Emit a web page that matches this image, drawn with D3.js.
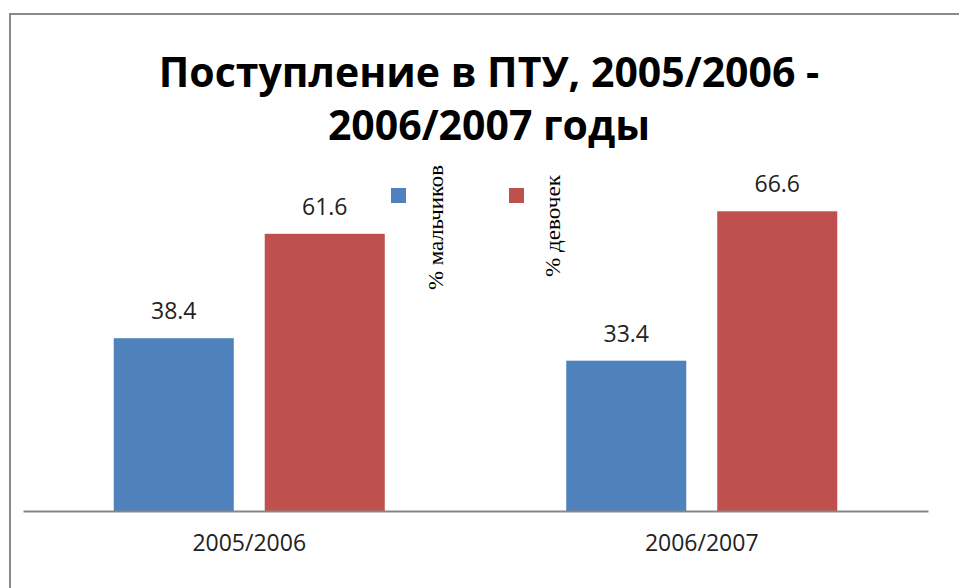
<!DOCTYPE html>
<html>
<head>
<meta charset="utf-8">
<script src="https://cdn.jsdelivr.net/npm/d3@7"></script>
<style>
  body { margin: 0; background: #fff; }
  svg { display: block; }
</style>
</head>
<body>
<div id="chart"></div>
<script>
// data
const years = ["2005/2006", "2006/2007"];
const seriesNames = ["% мальчиков", "% девочек"];
const boys = [38.4, 33.4];
const girls = [61.6, 66.6];
const titleLines = ["Поступление в ПТУ, 2005/2006 -", "2006/2007 годы"];

const colors = ["#4F81BD", "#C0504D"];

let totalWidth = 959,
    totalHeight = 588;

const svg = d3.select("#chart").append("svg")
    .attr("width", totalWidth)
    .attr("height", totalHeight);

// outer frame
svg.append("rect")
    .attr("x", 10).attr("y", 14)
    .attr("width", 970).attr("height", 600)
    .attr("fill", "#fff")
    .attr("stroke", "#8a8a8a")
    .attr("stroke-width", 2);

let xScale = d3.scaleBand().domain(years).range([23, 928]);
let yScale = d3.scaleLinear().domain([0, 70]).range([511, 196]);

const rows = years.map((y, i) => ({ year: y, values: [boys[i], girls[i]] }));

const inner = d3.scaleBand()
    .domain(d3.range(seriesNames.length))
    .range([0, xScale.bandwidth()])
    .paddingInner(0.205)
    .paddingOuter(0.601);

const groups = svg.selectAll("g.grp")
    .data(rows)
    .enter().append("g")
    .attr("class", "grp")
    .attr("transform", d => "translate(" + xScale(d.year) + ",0)");

groups.selectAll("rect")
    .data(d => d.values)
    .enter().append("rect")
    .attr("x", (d, i) => inner(i))
    .attr("y", d => yScale(d))
    .attr("width", inner.bandwidth())
    .attr("height", d => yScale(0) - yScale(d))
    .attr("fill", (d, i) => colors[i]);

groups.selectAll("text.val")
    .data(d => d.values)
    .enter().append("text")
    .attr("class", "val")
    .attr("x", (d, i) => inner(i) + inner.bandwidth() / 2)
    .attr("y", d => yScale(d) - 19)
    .attr("text-anchor", "middle")
    .style("font-family", "'Open Sans', sans-serif")
    .style("font-size", "23px")
    .attr("fill", "#222")
    .text(d => d.toFixed(1));

// x axis
const xAxis = d3.axisBottom(xScale).tickSize(0).tickPadding(24);
const gx = svg.append("g")
    .attr("transform", "translate(0," + yScale(0) + ")")
    .call(xAxis);
gx.select(".domain").attr("stroke", "#868686").attr("stroke-width", 2);
gx.selectAll("text")
    .style("font-family", "'Open Sans', sans-serif")
    .style("font-size", "23px")
    .attr("fill", "#222");

// title
svg.append("g").selectAll("text")
    .data(titleLines)
    .enter().append("text")
    .attr("x", 489)
    .attr("y", (d, i) => 87 + i * 53)
    .attr("text-anchor", "middle")
    .style("font-family", "'Open Sans', sans-serif")
    .style("font-weight", "bold")
    .style("font-size", "41px")
    .attr("fill", "#000")
    .text(d => d);

// legend (rotated serif labels)
const legendX = [391, 509];
const legendTextX = [443, 560];
const legendTextY = [290, 277];
const legendLen = [125, 102];
const leg = svg.append("g");
seriesNames.forEach((name, i) => {
    leg.append("rect")
        .attr("x", legendX[i]).attr("y", 188)
        .attr("width", 15).attr("height", 15)
        .attr("fill", colors[i]);
    leg.append("text")
        .attr("transform", "translate(" + legendTextX[i] + "," + legendTextY[i] + ") rotate(-90)")
        .style("font-family", "'Liberation Serif', 'Times New Roman', serif")
        .style("font-size", "20px")
        .attr("textLength", legendLen[i])
        .attr("lengthAdjust", "spacingAndGlyphs")
        .attr("fill", "#000")
        .text(name);
});
</script>
</body>
</html>
